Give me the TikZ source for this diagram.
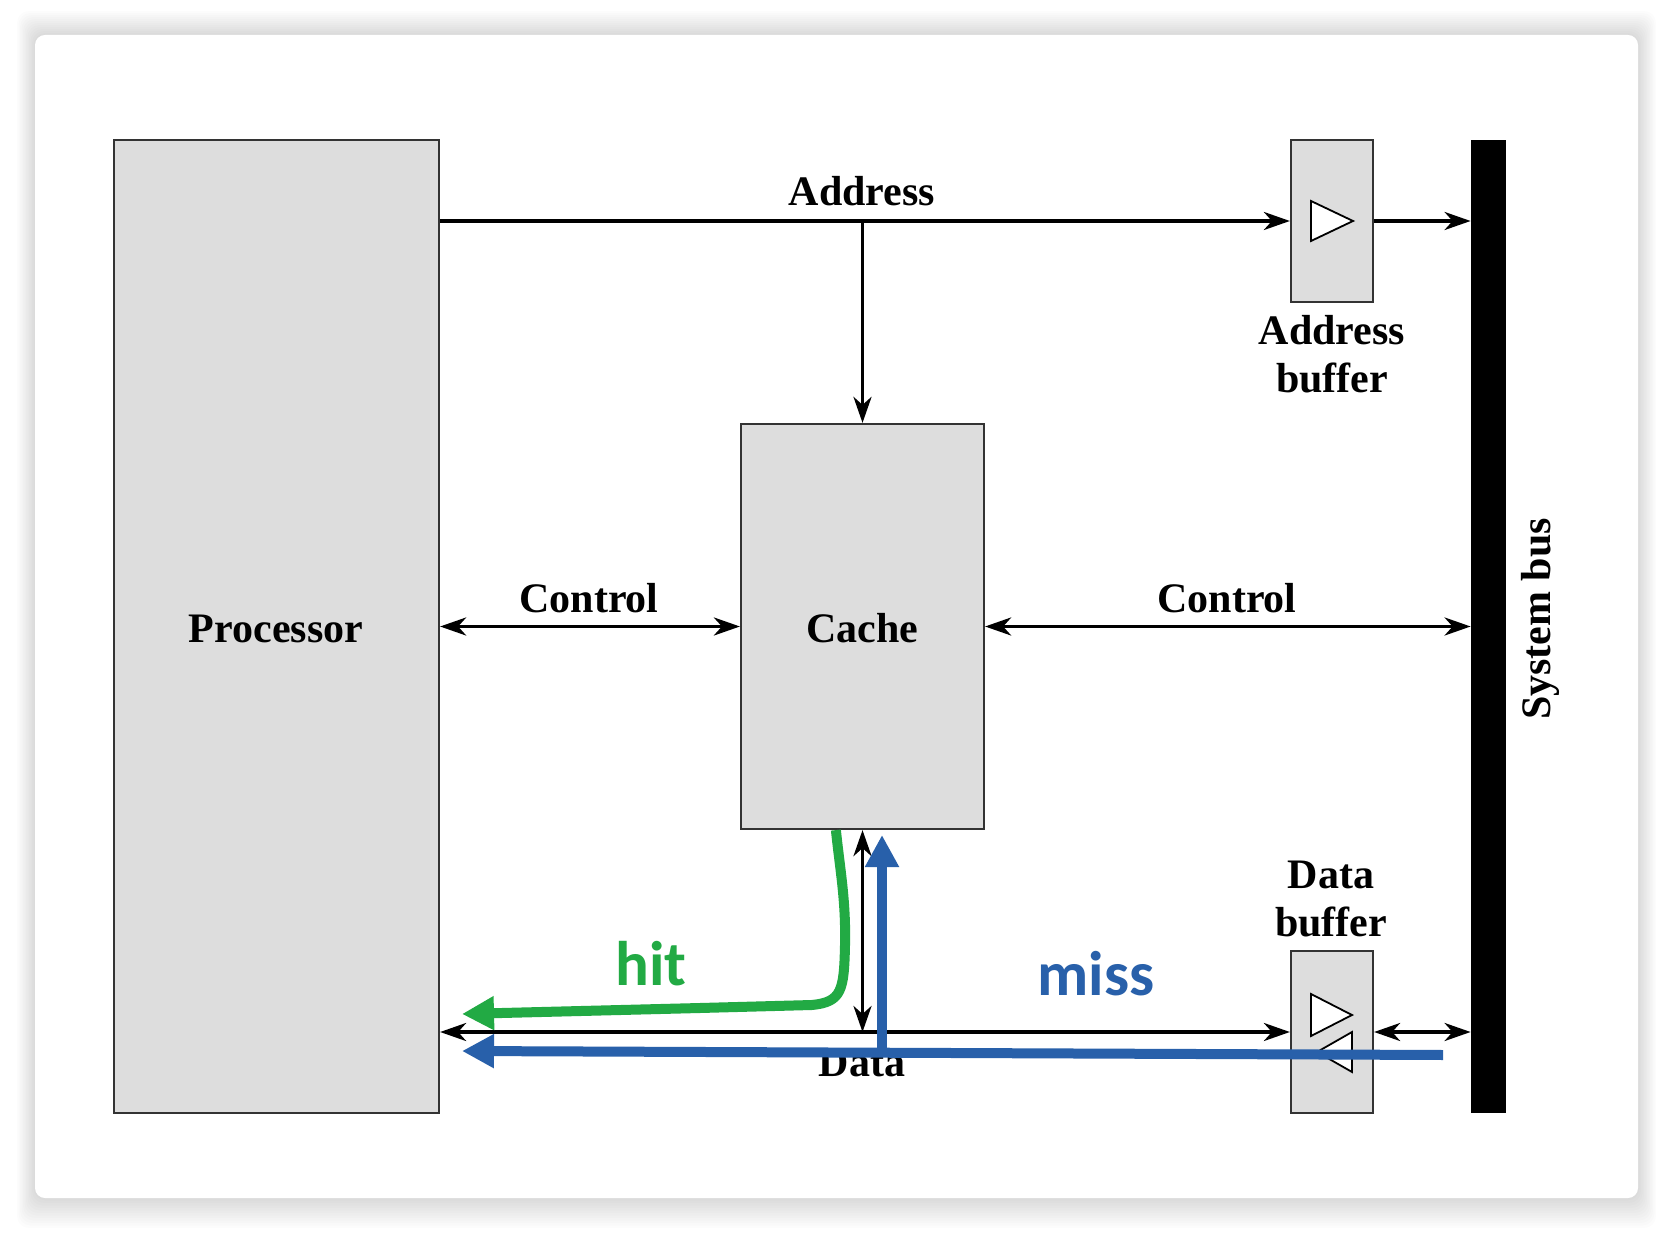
\documentclass[tikz,border=0pt]{standalone}
\usepackage{fontspec}
\setmainfont{Liberation Serif}
\newfontfamily\calfont{Carlito}
\usetikzlibrary{arrows.meta}
\definecolor{boxgray}{RGB}{221,221,221}
\definecolor{hitgreen}{RGB}{34,170,68}
\definecolor{missblue}{RGB}{40,96,170}
\begin{document}
\begin{tikzpicture}[x=0.5pt,y=-0.5pt,
  blk/.style={draw=black!80, line width=1.1pt, fill=boxgray, inner sep=0pt},
  lbl/.style={font=\fontsize{21pt}{24pt}\selectfont\bfseries, anchor=base, inner sep=0pt, align=center},
  tip/.tip={Stealth[length=13pt,width=9pt,inset=4pt]},
  conn/.style={line width=1.8pt, -tip},
  bconn/.style={line width=1.8pt, tip-tip},
  bigtip/.tip={Triangle[length=16pt,width=16pt]},
  hitpath/.style={hitgreen, line width=5pt, line join=round, -bigtip},
  misspath/.style={missblue, line width=5pt, -bigtip},
  flowlbl/.style={font=\calfont\bfseries\fontsize{31.5pt}{36pt}\selectfont, anchor=base, inner sep=0pt},
  tri/.style={draw=black, line width=0.9pt, fill=white, line join=miter}
]
\useasboundingbox (0,0) rectangle (1674,1234);
\fill[white] (0,0) rectangle (1674,1234);
\foreach \i in {1,...,12}{
  \fill[black, opacity=0.012, rounded corners=6pt] (35-1.5*\i,35-2*\i) rectangle (1638+1.5*\i,1198+2.5*\i);
}
\fill[white, rounded corners=5pt] (35,35) rectangle (1638,1198);

% blocks
\node[blk, minimum width=162.5pt, minimum height=486.5pt] (proc) at (276.5,626.5) {};
\node[blk, minimum width=121.5pt, minimum height=202.5pt] (cache) at (862.5,626.5) {};
\node[blk, minimum width=41pt, minimum height=81pt] (abuf) at (1332,221) {};
\node[blk, minimum width=41pt, minimum height=81pt] (dbuf) at (1332,1032) {};
\node[fill=black, inner sep=0pt, minimum width=17.5pt, minimum height=486.5pt] (bus) at (1488.5,626.5) {};

% buffer symbols
\draw[tri] (1311,201) -- (1311,241) -- (1353,221) -- cycle;
\draw[tri] (1311,994) -- (1311,1036) -- (1352,1015) -- cycle;
\draw[tri] (1352,1032) -- (1352,1072) -- (1317,1052) -- cycle;

% labels
\node[lbl] (plbl) at (276,642) {Processor};
\node[lbl] (clbl) at (862.5,642) {Cache};
\node[lbl] (albl) at (862,206) {Address};
\node[lbl] (ctl1) at (589,612) {Control};
\node[lbl] (ctl2) at (1227,612) {Control};
\node[lbl] (ablbl) at (1332,393) {Address\\[0pt]buffer};
\node[lbl] (dblbl) at (1331,936) {Data\\[0pt]buffer};
\node[lbl] (dlbl) at (862,1076) {Data};
\node[lbl, rotate=90] (buslbl) at (1550,619) {System bus};

% connectors
\coordinate (ajoin) at (cache.north |- abuf.west);
\draw[conn] (proc.east |- abuf.west) -- (abuf.west);
\draw[conn] (abuf.east) -- (abuf.east -| bus.west);
\draw[conn] (ajoin) -- (cache.north);
\draw[bconn] (proc.east |- cache.west) -- (cache.west);
\draw[bconn] (cache.east) -- (cache.east -| bus.west);
\draw[bconn] (proc.east |- dbuf.west) -- (dbuf.west);
\draw[bconn] (cache.south |- dbuf.west) -- (cache.south);
\draw[bconn] (dbuf.east) -- (dbuf.east -| bus.west);

% hit path
\coordinate (hitend) at (462,1014);
\draw[hitpath] ([xshift=48pt]cache.south west) .. controls (840,870) and (846,900) .. (845,945)
   .. controls (844,990) and (842,1002) .. (812,1005) -- (700,1008) -- (hitend);
\node[flowlbl, text=hitgreen] (hit) at (651,985) {hit};

% miss path
\coordinate (missstart) at (1443,1055);
\coordinate (missend) at (462,1051);
\coordinate (missup) at (882,835);
\draw[misspath] (missstart) -- (missend);
\draw[misspath] (missup |- missstart) ++(0,-2) -- (missup);
\node[flowlbl, text=missblue] (miss) at (1096,995) {miss};
\end{tikzpicture}
\end{document}
